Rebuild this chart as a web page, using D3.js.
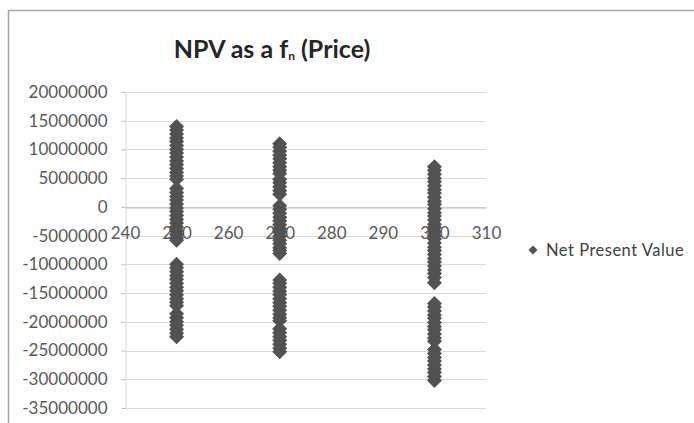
<!DOCTYPE html>
<html>
<head>
<meta charset="utf-8">
<script src="https://cdn.jsdelivr.net/npm/d3@7"></script>
<style>
  html, body { margin: 0; padding: 0; background: #fff; }
  svg { display: block; }
  text { font-family: Lato, "Open Sans", sans-serif; }
</style>
</head>
<body>
<svg id="chart" width="694" height="423"></svg>
<script>
// Simulated NPV outcomes (in millions) at each tested price
const prices = [250, 270, 300];
const npv250 = [14, 13.4, 12.7, 12, 11.4, 10.7, 10, 9.4, 8.7, 8, 7.4, 6.7, 6, 5.4, 4.8,
  3.2, 2.5, 1.8, 1.2, 0.5, -0.2, -0.8, -1.5, -2.2, -2.8, -3.5, -4.2, -4.8, -5.4, -5.8,
  -10.0, -10.6, -11.3, -12, -12.6, -13.3, -14, -14.6, -15.3, -16, -16.6, -17.2,
  -18.6, -19.3, -20, -20.6, -21.3, -22, -22.6];
const npv270 = [11, 10.4, 9.7, 9, 8.4, 7.7, 7, 6.4, 5.8, 4.8, 4.2, 3.5, 2.8, 2.2,
  0.2, -0.4, -1.1, -1.8, -2.4, -3.1, -3.8, -4.4, -5.1, -5.8, -6.4, -7.1, -7.6, -8.1,
  -12.7, -13.3, -14, -14.7, -15.3, -16, -16.7, -17.3, -18, -18.7, -19.3, -19.8,
  -21.2, -21.9, -22.6, -23.2, -23.9, -24.6, -25.2];
const npv300 = [7, 6.4, 5.7, 5, 4.4, 3.7, 3, 2.4, 1.7, 1, 0.4, -0.3, -1, -1.6, -2.3,
  -3, -3.6, -4.3, -5, -5.6, -6.3, -7, -7.6, -8.3, -9, -9.6, -10.3, -11, -11.6, -12.3, -13.2,
  -16.8, -17.4, -18.1, -18.8, -19.4, -20.1, -20.8, -21.4, -22.1, -22.8, -23.4,
  -24.8, -25.5, -26.2, -26.8, -27.5, -28.2, -28.8, -29.5, -30.2];
const seriesByPrice = [npv250, npv270, npv300];

const xTicks = [240, 250, 260, 270, 280, 290, 300, 310];
const yTicks = [20000000, 15000000, 10000000, 5000000, 0, -5000000, -10000000,
  -15000000, -20000000, -25000000, -30000000, -35000000];
const titleMain = "NPV as a f";
const titleSub = "n";
const titleTail = " (Price)";
const legendLabel = "Net Present Value";

const points = [];
prices.forEach((p, i) => seriesByPrice[i].forEach(v => points.push({ price: p, npv: v * 1e6 })));

const svg = d3.select("#chart");
const W = 694, H = 423;
const plot = { left: 125, right: 486, top: 92, bottom: 408 };

const x = d3.scaleLinear().domain([240, 310]).range([plot.left, plot.right]);
const y = d3.scaleLinear().domain([-35000000, 20000000]).range([plot.bottom, plot.top]);

// plain integer labels with an ASCII hyphen for negatives
const intLabel = d => String(Math.round(d));

// chart frame
svg.append("rect")
  .attr("x", 8.5).attr("y", 10.5).attr("width", W).attr("height", H)
  .attr("fill", "#fff").attr("stroke", "#a6a6a6").attr("stroke-width", 1.5);

// title
const title = svg.append("text")
  .attr("x", 272).attr("y", 58)
  .attr("text-anchor", "middle")
  .attr("font-size", 25).attr("font-weight", "bold").attr("fill", "#262626");
title.append("tspan").text(titleMain);
title.append("tspan").attr("font-size", 12).attr("dy", 2).text(titleSub);
title.append("tspan").attr("dy", -2).text(titleTail);

// horizontal gridlines
svg.append("g")
  .selectAll("line").data(yTicks).join("line")
  .attr("x1", plot.left).attr("x2", plot.right)
  .attr("y1", d => Math.round(y(d)) + 0.5).attr("y2", d => Math.round(y(d)) + 0.5)
  .attr("stroke", "#d9d9d9").attr("stroke-width", 1);

// vertical value axis
const yAxis = d3.axisLeft(y).tickValues(yTicks).tickSize(4).tickPadding(14)
  .tickFormat(intLabel);
const gy = svg.append("g").attr("transform", `translate(${plot.left + 0.5},0)`).call(yAxis);
gy.select(".domain").attr("stroke", "#d9d9d9");
gy.selectAll(".tick line").attr("stroke", "#bfbfbf");
gy.selectAll(".tick text").attr("font-size", 17).attr("fill", "#595959")
  .attr("font-family", "Lato, sans-serif");

// horizontal price axis crossing at zero
const xAxis = d3.axisBottom(x).tickValues(xTicks)
  .tickSize(0).tickPadding(19).tickFormat(intLabel);
const gx = svg.append("g").attr("transform", `translate(0,${Math.round(y(0)) + 0.5})`).call(xAxis);
gx.select(".domain").attr("stroke", "#bfbfbf");
gx.selectAll(".tick text").attr("font-size", 17).attr("fill", "#595959")
  .attr("font-family", "Lato, sans-serif");

// diamond markers
const diamond = r => `M0,${-r}L${r},0L0,${r}L${-r},0Z`;
svg.append("g")
  .selectAll("path").data(points).join("path")
  .attr("transform", d => `translate(${x(d.price)},${y(d.npv)})`)
  .attr("d", diamond(7.5))
  .attr("fill", "#525252");

// legend
const lg = svg.append("g").attr("transform", "translate(533,250)");
lg.append("path").attr("d", diamond(4.5)).attr("fill", "#525252");
lg.append("text").attr("x", 13).attr("y", 6).attr("font-size", 16.5)
  .attr("letter-spacing", 0.5)
  .attr("fill", "#404040").text(legendLabel);
</script>
</body>
</html>
